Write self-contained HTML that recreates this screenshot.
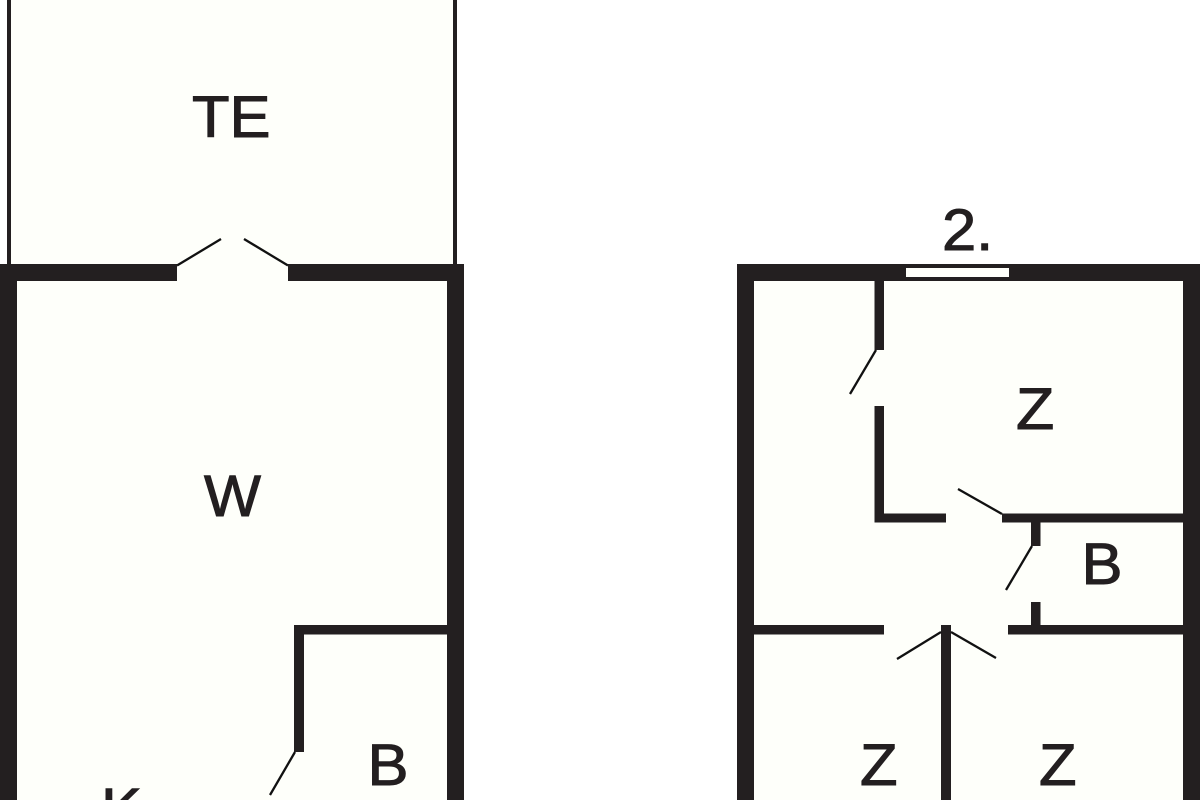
<!DOCTYPE html>
<html>
<head>
<meta charset="utf-8">
<style>
html,body{margin:0;padding:0;background:#fff;width:1200px;height:800px;overflow:hidden}
svg{display:block}
text{font-family:"Liberation Sans",sans-serif;font-size:58px;fill:#231f20;stroke:#231f20;stroke-width:1px}
</style>
</head>
<body>
<svg width="1200" height="800" viewBox="0 0 1200 800" xmlns="http://www.w3.org/2000/svg">
<rect width="1200" height="800" fill="#fff"/>
<rect x="9" y="0" width="446" height="264" fill="#fefffa"/>
<rect x="17" y="264" width="430" height="536" fill="#fefffa"/>
<rect x="754" y="264" width="429" height="536" fill="#fefffa"/>
<g fill="#231f20">
<rect x="7" y="0" width="4" height="264"/>
<rect x="453" y="0" width="4" height="264"/>
<rect x="0" y="264" width="177" height="17"/>
<rect x="288" y="264" width="176" height="17"/>
<rect x="0" y="264" width="17" height="536"/>
<rect x="447" y="264" width="17" height="536"/>
<rect x="294" y="625" width="153" height="9.500"/>
<rect x="294" y="625" width="10" height="127"/>
<rect x="737" y="264" width="463" height="17"/>
<rect x="737" y="264" width="17" height="536"/>
<rect x="1183" y="264" width="17" height="536"/>
<rect x="874.500" y="281" width="9.500" height="69"/>
<rect x="874.500" y="406" width="9.500" height="116.500"/>
<rect x="874.500" y="513.500" width="71.500" height="9"/>
<rect x="1002" y="513.500" width="181" height="9"/>
<rect x="1031" y="522" width="9.500" height="24"/>
<rect x="1031" y="602" width="9.500" height="24"/>
<rect x="754" y="625" width="130" height="9.500"/>
<rect x="1008" y="625" width="175" height="9.500"/>
<rect x="941" y="625" width="10" height="175"/>
</g>
<rect x="906" y="268" width="103" height="9" fill="#fefffa"/>
<g stroke="#111" stroke-width="2.300" fill="none">
<line x1="177" y1="265.500" x2="221" y2="239"/>
<line x1="244" y1="239" x2="288" y2="265.500"/>
<line x1="295" y1="752" x2="270" y2="795"/>
<line x1="876" y1="350" x2="850" y2="394"/>
<line x1="1002" y1="514" x2="958" y2="489"/>
<line x1="1032" y1="546" x2="1006" y2="590"/>
<line x1="941" y1="632" x2="897" y2="659"/>
<line x1="951" y1="632" x2="996" y2="658"/>
</g>
<text transform="translate(192,137) scale(1.06,1)">TE</text>
<text transform="translate(204,516) scale(1.04,1)">W</text>
<text transform="translate(367.500,785) scale(1.06,1)">B</text>
<text transform="translate(101,829) scale(1.06,1)">K</text>
<text transform="translate(942,250) scale(1.06,1)">2.</text>
<text transform="translate(1016,429) scale(1.08,1)">Z</text>
<text transform="translate(1081.500,584) scale(1.06,1)">B</text>
<text transform="translate(860,785) scale(1.06,1)">Z</text>
<text transform="translate(1039,785) scale(1.06,1)">Z</text>
</svg>
</body>
</html>
